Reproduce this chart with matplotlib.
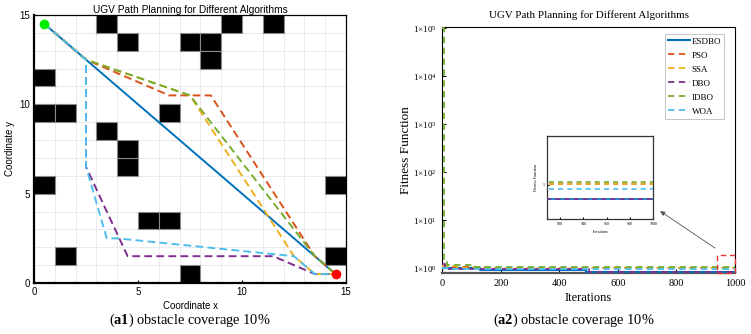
import numpy as np
import matplotlib
matplotlib.use("Agg")
import matplotlib.pyplot as plt
from matplotlib.patches import Rectangle

plt.rcParams['mathtext.fontset'] = 'custom'
plt.rcParams['mathtext.rm'] = 'Liberation Serif'
plt.rcParams['mathtext.it'] = 'Liberation Serif:italic'
plt.rcParams['mathtext.bf'] = 'Liberation Serif:bold'

# ---------------- data: left panel (map) ----------------
grid_size = 15
obstacle_x = [3, 4, 7, 8, 8, 9, 11, 0, 0, 1, 6, 3, 4, 4, 0, 14, 5, 6, 1, 7, 14]
obstacle_y = [14, 13, 13, 13, 12, 14, 14, 11, 9, 9, 9, 8, 6, 7, 5, 5, 3, 3, 1, 0, 1]
start_pt = (0.5, 14.5)
goal_pt = (14.5, 0.5)

algorithms = ['ESDBO', 'PSO', 'SSA', 'DBO', 'IDBO', 'WOA']
colors = ['#0072BD', '#D95319', '#EDB120', '#7E2F8E', '#77AC30', '#4DBEEE']

esdbo_px = [0.5, 14.5]
esdbo_py = [14.5, 0.5]
pso_px = [0.5, 2.5, 6.5, 8.5, 13.5, 14.5]
pso_py = [14.5, 12.5, 10.5, 10.5, 1.5, 0.5]
ssa_px = [0.5, 2.5, 7.5, 12.5, 13.5, 14.5]
ssa_py = [14.5, 12.5, 10.5, 1.5, 0.5, 0.5]
dbo_px = [0.5, 2.5, 2.5, 4.5, 11.5, 13.5, 14.5]
dbo_py = [14.5, 12.5, 6.5, 1.5, 1.5, 0.5, 0.5]
idbo_px = [0.5, 2.5, 7.5, 13.5, 14.5]
idbo_py = [14.5, 12.5, 10.5, 1.5, 0.5]
woa_px = [0.5, 2.5, 2.5, 3.5, 4.0, 12.5, 13.5, 14.5]
woa_py = [14.5, 12.5, 6.5, 2.5, 2.5, 1.5, 0.5, 0.5]

paths_x = [esdbo_px, pso_px, ssa_px, dbo_px, idbo_px, woa_px]
paths_y = [esdbo_py, pso_py, ssa_py, dbo_py, idbo_py, woa_py]

# ---------------- data: right panel (convergence) ----------------
esdbo_it = [0, 130, 490, 715, 1000]
esdbo_fit = [0.98, 0.91, 0.84, 0.82, 0.82]
pso_it = [0, 20, 150, 1000]
pso_fit = [1.10, 1.05, 1.01, 1.01]
ssa_it = [0, 50, 1000]
ssa_fit = [1.08, 1.005, 1.005]
dbo_it = [0, 10, 500, 1000]
dbo_fit = [1.20, 0.97, 0.827, 0.827]
idbo_it = [0, 5, 15, 110, 1000]
idbo_fit = [1.0e5, 1.35, 1.14, 1.03, 1.03]
woa_it = [0, 30, 1000]
woa_fit = [1.00, 0.95, 0.95]

conv_it = [esdbo_it, pso_it, ssa_it, dbo_it, idbo_it, woa_it]
conv_fit = [esdbo_fit, pso_fit, ssa_fit, dbo_fit, idbo_fit, woa_fit]

ytick_vals = [1e0, 1e1, 1e2, 1e3, 1e4, 1e5]
ytick_labels = ['1×10$^{0}$', '1×10$^{1}$', '1×10$^{2}$', '1×10$^{3}$', '1×10$^{4}$', '1×10$^{5}$']
xtick_vals = [0, 200, 400, 600, 800, 1000]
inset_xticks = [920, 940, 960, 980, 1000]

# ---------------- figure ----------------
fig = plt.figure(figsize=(7.51, 3.34), dpi=100)
sans = 'Liberation Sans'
serif = 'Liberation Serif'

# Left panel
ax1 = fig.add_axes([0.0453, 0.1527, 0.4154, 0.8024])
ax1.set_xlim(0, grid_size)
ax1.set_ylim(0, grid_size)
ax1.set_xticks(range(0, grid_size + 1), minor=True)
ax1.set_yticks(range(0, grid_size + 1), minor=True)
ax1.grid(which='minor', color='#e8e8e8', lw=0.6, zorder=0)
ax1.set_xticks([0, 5, 10, 15])
ax1.set_yticks([0, 5, 10, 15])
ax1.tick_params(which='minor', length=0)
ax1.tick_params(which='major', direction='in', length=2, labelsize=7, pad=3)
for lab in ax1.get_xticklabels() + ax1.get_yticklabels():
    lab.set_family(sans)
for ox, oy in zip(obstacle_x, obstacle_y):
    ax1.add_patch(Rectangle((ox, oy), 1, 1, facecolor='black', edgecolor='#8a8a8a', lw=0.8, zorder=2))
for i, (px, py) in enumerate(zip(paths_x, paths_y)):
    if i == 0:
        ax1.plot(px, py, color=colors[i], lw=1.4, zorder=3)
    else:
        ax1.plot(px, py, color=colors[i], lw=1.4, dashes=(4, 2.2), zorder=3 + i)
ax1.plot(*start_pt, 'o', color='#00ee00', ms=6, zorder=10)
ax1.plot(*goal_pt, 'o', color='#ff0000', ms=6, zorder=10)
ax1.set_title('UGV Path Planning for Different Algorithms', fontsize=7.3, family=sans, pad=1)
ax1.set_xlabel('Coordinate x', fontsize=7, family=sans, labelpad=3)
ax1.set_ylabel('Coordinate y', fontsize=7, family=sans, labelpad=3)
ax1.spines['left'].set_linewidth(1.6)
ax1.spines['bottom'].set_linewidth(1.6)
ax1.spines['top'].set_linewidth(0.9)
ax1.spines['right'].set_linewidth(0.9)

fig.text(190 / 751, 1 - 320 / 334, r'($\mathbf{a1}$) obstacle coverage 10%', ha='center', va='center',
         fontsize=10.4, family=serif)

# Right panel
ax2 = fig.add_axes([0.589, 0.1817, 0.3897, 0.7383])
for i in range(len(algorithms)):
    if i == 0:
        ax2.plot(conv_it[i], conv_fit[i], drawstyle='steps-post', color=colors[i], lw=1.5, label=algorithms[i], zorder=3)
    else:
        ax2.plot(conv_it[i], conv_fit[i], drawstyle='steps-post', color=colors[i], lw=1.3,
                 dashes=(3.5, 2.5), label=algorithms[i], zorder=3 + i)
ax2.set_yscale('log')
ax2.set_xlim(0, 1000)
ax2.set_ylim(0.775, 1.08e5)
ax2.set_yticks(ytick_vals)
ax2.set_yticklabels(ytick_labels)
ax2.yaxis.set_minor_locator(matplotlib.ticker.NullLocator())
ax2.set_xticks(xtick_vals)
ax2.tick_params(direction='in', length=3, labelsize=6.5, pad=4)
ax2.tick_params(axis='x', labelsize=7.5)
for lab in ax2.get_xticklabels() + ax2.get_yticklabels():
    lab.set_family(serif)
ax2.set_title('UGV Path Planning for Different Algorithms', fontsize=7.9, family=serif, pad=6)
ax2.set_xlabel('Iterations', fontsize=9, family=serif, labelpad=3)
ax2.set_ylabel('Fitness Function', fontsize=9.5, family=serif, labelpad=1)
ax2.spines['bottom'].set_color('#555555')
ax2.spines['bottom'].set_linewidth(1.6)
leg = ax2.legend(loc='upper right', prop={'family': serif, 'size': 6.5}, handlelength=2.4,
                 handletextpad=0.15, labelspacing=0.63, borderpad=0.35, borderaxespad=0,
                 fancybox=False, framealpha=1, edgecolor='#bbbbbb',
                 bbox_to_anchor=(0.963, 0.970))
leg.get_frame().set_linewidth(0.6)

# zoom rectangle
ax2.add_patch(Rectangle((937, 0.775), 63, 1.87 - 0.775, fill=False, edgecolor='#ee3333',
                        lw=1.0, ls=(0, (4, 2.5)), zorder=12, clip_on=False))
ax2.annotate('', xy=(744, 15.4), xytext=(932, 2.6),
             arrowprops=dict(arrowstyle='-|>', color='#555555', lw=0.6, mutation_scale=7,
                             shrinkA=0, shrinkB=0))

# Inset
axin = fig.add_axes([0.7288, 0.3434, 0.1411, 0.2494])
for i in range(len(algorithms)):
    if i == 0:
        axin.plot(conv_it[i], conv_fit[i], drawstyle='steps-post', color=colors[i], lw=1.2, zorder=3)
    else:
        axin.plot(conv_it[i], conv_fit[i], drawstyle='steps-post', color=colors[i], lw=1.2,
                  dashes=(3, 2.5), zorder=3 + i)
axin.set_xlim(909, 1000)
axin.set_ylim(0.573, 1.603)
axin.set_xticks(inset_xticks)
axin.set_yticks([1])
axin.tick_params(direction='in', length=1.5, labelsize=3, pad=2)
for lab in axin.get_xticklabels() + axin.get_yticklabels():
    lab.set_family(serif)
axin.set_xlabel('Iterations', fontsize=3, family=serif, labelpad=3)
axin.set_ylabel('Fitness Function', fontsize=3, family=serif, labelpad=3)
for s in axin.spines.values():
    s.set_linewidth(0.9)
    s.set_color('#333333')

fig.text(573.5 / 751, 1 - 320 / 334, r'($\mathbf{a2}$) obstacle coverage 10%', ha='center', va='center',
         fontsize=10.4, family=serif)

fig.savefig('out.png', dpi=100)
